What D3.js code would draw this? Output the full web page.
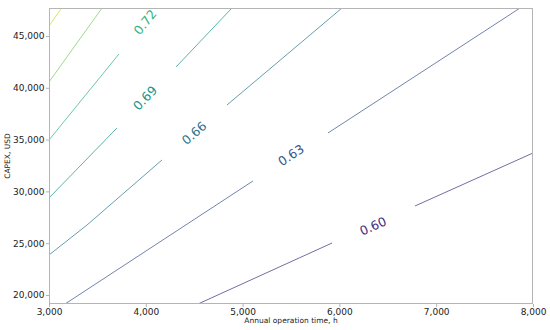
<!doctype html>
<html lang="en">
<head>
  <meta charset="utf-8">
  <title>CAPEX vs annual operation time</title>
  <style>
    body { margin: 0; background: #fff; }
    text { font-family: "DejaVu Sans", sans-serif; }
  </style>
</head>
<body>
<svg id="chart"></svg>
<script src="https://d3js.org/d3.v7.min.js"></script>
<script>
// contour levels and their line pieces (x = hours, y = USD)
var levels = [0.60, 0.63, 0.66, 0.69, 0.72, 0.75, 0.78];
var pieces = [
  [[[4539, 19131], [5924, 25019]], [[6781, 28591], [8000, 33707]]],
  [[[3165, 19131], [5107, 31004]], [[5882, 35637], [7866, 47700]]],
  [[[3000, 23861], [3393, 26757], [4167, 33031]], [[4839, 38340], [6027, 47700]]],
  [[[3000, 29363], [3702, 36120]], [[4312, 42008], [4890, 47700]]],
  [[[3000, 34961], [3723, 43263]]],
  [[[3000, 40560], [3548, 47700]]],
  [[[3000, 45965], [3130, 47700]]]
];
// inline label positions (null = no label)
var labelPos = [[6347, 26660], [5500, 33514], [4498, 35637], [3992, 39015], [3992, 46351], null, null];

var xTicks = [3000, 4000, 5000, 6000, 7000, 8000];
var yTicks = [20000, 25000, 30000, 35000, 40000, 45000];

var width = 550, height = 330;
var margin = {top: 8, right: 17, bottom: 26, left: 49};

var svg = d3.select("#chart")
  .attr("width", width)
  .attr("height", height);

var x = d3.scaleLinear()
  .domain([3000, 8000])
  .range([margin.left, width - margin.right]);

var y = d3.scaleLinear()
  .domain([19131, 47703])
  .range([height - margin.bottom, margin.top]);

var color = d3.scaleSequential(d3.interpolateViridis).domain([0.57, 0.80]);

var line = d3.line()
  .x(function(d) { return x(d[0]); })
  .y(function(d) { return y(d[1]); });

svg.append("defs").append("clipPath").attr("id", "clip")
  .append("rect")
  .attr("x", margin.left).attr("y", margin.top)
  .attr("width", width - margin.left - margin.right)
  .attr("height", height - margin.top - margin.bottom);

var plot = svg.append("g").attr("clip-path", "url(#clip)");

levels.forEach(function(lv, i) {
  pieces[i].forEach(function(p) {
    plot.append("path").datum(p)
      .attr("d", line)
      .style("fill", "none")
      .style("stroke", color(lv))
      .style("stroke-opacity", 0.8)
      .style("stroke-width", 0.9);
  });
  if (labelPos[i]) {
    // angle taken from the piece just before the label
    var seg = pieces[i][0];
    var a = seg[seg.length - 2], b = seg[seg.length - 1];
    var ang = Math.atan2(y(b[1]) - y(a[1]), x(b[0]) - x(a[0])) * 180 / Math.PI;
    var lx = x(labelPos[i][0]), ly = y(labelPos[i][1]);
    svg.append("text")
      .attr("transform", "translate(" + lx + "," + ly + ") rotate(" + ang + ")")
      .attr("text-anchor", "middle")
      .attr("dy", "0.36em")
      .style("font-size", "12.5px")
      .style("fill", color(lv))
      .text(d3.format(".2f")(lv));
  }
});

// frame
svg.append("rect")
  .attr("x", margin.left + 0.5).attr("y", margin.top + 0.5)
  .attr("width", width - margin.left - margin.right - 1)
  .attr("height", height - margin.top - margin.bottom - 1)
  .style("fill", "none")
  .style("stroke", "#b5b5b5")
  .style("stroke-width", 1);

var xAxis = svg.append("g")
  .attr("transform", "translate(0," + (height - margin.bottom) + ")")
  .call(d3.axisBottom(x).tickValues(xTicks).tickFormat(d3.format(",")).tickSize(3).tickPadding(1.5));

var yAxis = svg.append("g")
  .attr("transform", "translate(" + margin.left + ",0)")
  .call(d3.axisLeft(y).tickValues(yTicks).tickFormat(d3.format(",")).tickSize(3).tickPadding(1.5));

[xAxis, yAxis].forEach(function(ax) {
  ax.select(".domain").remove();
  ax.selectAll(".tick line").style("stroke", "#b5b5b5");
  ax.selectAll(".tick text")
    .style("font-family", "DejaVu Sans, sans-serif")
    .style("font-size", "9px")
    .style("fill", "#222");
});

svg.append("text")
  .attr("x", (margin.left + width - margin.right) / 2)
  .attr("y", 323)
  .attr("text-anchor", "middle")
  .style("font-size", "7.5px")
  .style("fill", "#222")
  .text("Annual operation time, h");

svg.append("text")
  .attr("transform", "translate(10," + ((margin.top + height - margin.bottom) / 2) + ") rotate(-90)")
  .attr("text-anchor", "middle")
  .style("font-size", "7.5px")
  .style("fill", "#222")
  .text("CAPEX, USD");
</script>
</body>
</html>
